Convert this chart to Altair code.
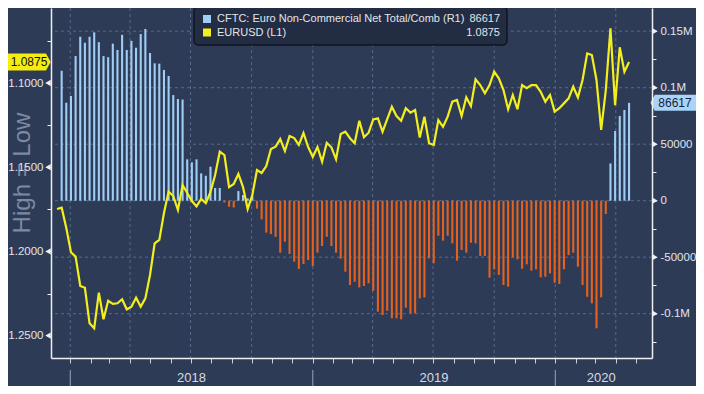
import altair as alt
import pandas as pd
import numpy as np

# ------------------------------------------------------------------ data
cftc_start = "2017-12-19"          # weekly (Tuesday) CFTC report dates
cftc_net = [
    115000, 86700, 92700, 128000, 145100, 139800, 145100, 149000, 140300, 128000,
    127000, 139000, 133400, 146800, 133400, 141500, 135400, 147500, 152000, 130700,
    121600, 121300, 115700, 110400, 93500, 90000, 89500, 36600, 34000, 36600,
    24200, 22100, 30100, 11200, 11200, -1500, -5300, -6000, 8500, 5000,
    2000, 4000, -7000, -16500, -28300, -29500, -31900, -46000, -36300, -47200,
    -54000, -60400, -56000, -52500, -57800, -46000, -40100, -31900, -40100, -46000,
    -51300, -62800, -74600, -71700, -76700, -75500, -73100, -79700, -98200, -101200,
    -97400, -104100, -104100, -105000, -94700, -99700, -99700, -86400, -85500, -51000,
    -55400, -31000, -35400, -31000, -37700, -53100, -43600, -46000, -37200, -37700,
    -48900, -48900, -68100, -60700, -65700, -74600, -76100, -50400, -51900, -60200,
    -56300, -62000, -60700, -67800, -67300, -64300, -72600, -73700, -60700, -48100,
    -46000, -58400, -74600, -85000, -90800, -112900, -85500, -11800, 33000, 61700,
    75000, 80300, 86617,
]

eurusd_start = "2017-12-12"        # weekly EURUSD closes
eurusd = [
    1.1748,
    1.1740, 1.1861, 1.2005, 1.2031, 1.2205, 1.2216, 1.2427, 1.2457, 1.2245, 1.2403,
    1.2293, 1.2312, 1.2308, 1.2284, 1.2344, 1.2328, 1.2275, 1.2328, 1.2279, 1.2140,
    1.1952, 1.1932, 1.1772, 1.1645, 1.1671, 1.1754, 1.1606, 1.1653, 1.1701, 1.1733,
    1.1689, 1.1713, 1.1647, 1.1546, 1.1408, 1.1428, 1.1618, 1.1600, 1.1540, 1.1618,
    1.1748, 1.1665, 1.1517, 1.1534, 1.1493, 1.1392, 1.1378, 1.1333, 1.1404, 1.1315,
    1.1327, 1.1368, 1.1297, 1.1380, 1.1439, 1.1380, 1.1467, 1.1355, 1.1382, 1.1453,
    1.1303, 1.1289, 1.1328, 1.1358, 1.1224, 1.1322, 1.1295, 1.1216, 1.1210, 1.1289,
    1.1214, 1.1141, 1.1196, 1.1224, 1.1150, 1.1176, 1.1160, 1.1324, 1.1200, 1.1358,
    1.1368, 1.1220, 1.1260, 1.1200, 1.1111, 1.1101, 1.1196, 1.1085, 1.1137, 1.0978,
    1.1012, 1.1061, 1.1012, 1.0933, 1.0972, 1.1042, 1.1156, 1.1071, 1.1156, 1.1012,
    1.1031, 1.1012, 1.1012, 1.1052, 1.1111, 1.1071, 1.1170, 1.1150, 1.1121, 1.1091,
    1.1022, 1.1085, 1.0982, 1.0824, 1.0834, 1.0982, 1.1279, 1.1042, 1.0675, 1.1131,
    1.0788, 1.0933, 1.0875,
]

left_ticks = [1.075, 1.100, 1.125, 1.150, 1.175, 1.200, 1.225, 1.250]
left_major = [1.10, 1.15, 1.20, 1.25]
right_ticks = [-125000, -100000, -75000, -50000, -25000, 0, 25000,
               50000, 75000, 100000, 125000, 150000]
right_major = [150000, 100000, 50000, 0, -50000, -100000]
right_major_labels = ["0.15M", "0.1M", "50000", "0", "-50000", "-0.1M"]

quarter_dates = ["2018-01-01", "2018-04-01", "2018-07-01", "2018-10-01",
                 "2019-01-01", "2019-04-01", "2019-07-01", "2019-10-01",
                 "2020-01-01", "2020-04-01"]
year_starts = ["2018-01-01", "2019-01-01", "2020-01-01"]
year_labels = ["2018", "2019", "2020"]

legend_names = ["CFTC: Euro Non-Commercial Net Total/Comb (R1)", "EURUSD (L1)"]
legend_values = ["86617", "1.0875"]
last_cftc, last_cftc_text = 86617, "86617"
last_eur, last_eur_text = 1.0875, "1.0875"
axis_note = "High = Low"

# ------------------------------------------------------------------ style
W, H = 601, 350
BG = "#2e3b57"
BLUE = "#9fcdf4"
ORANGE = "#e4621d"
YELLOW = "#f3ef1f"
GRID = "#566a8b"
AXIS = "#f0f0f0"
LABEL = "#e2e5ea"
FONT = "Liberation Sans"

x_end = pd.Timestamp("2020-05-18")

# ------------------------------------------------------------------ frames
bar_dates = pd.date_range(cftc_start, periods=len(cftc_net), freq="7D")
df_bar = pd.DataFrame({"date": bar_dates, "net": cftc_net})
df_bar["sign"] = np.where(df_bar["net"] >= 0, "long", "short")

line_dates = pd.date_range(eurusd_start, periods=len(eurusd), freq="7D")
df_line = pd.DataFrame({"date": line_dates, "px": eurusd})

df_vgrid = pd.DataFrame({"date": pd.to_datetime(quarter_dates)})
df_hgrid = pd.DataFrame({"v": right_major})
df_tl = pd.DataFrame({"v": left_major})
df_tr = pd.DataFrame({"v": right_major})

ys = pd.to_datetime(year_starts)
mids = []
for i, s in enumerate(ys):
    e = ys[i + 1] if i + 1 < len(ys) else x_end
    e = min(e, x_end)
    mids.append(s + (e - s) / 2)
df_years = pd.DataFrame({"date": mids, "label": year_labels})
df_sep = pd.DataFrame({"date": ys})
one = pd.DataFrame({"a": [0]})

# ------------------------------------------------------------------ scales / axes
xscale = alt.Scale(domain=[alt.DateTime(year=2017, month=12, date=10, hours=12),
                           alt.DateTime(year=2020, month=5, date=18)])
xaxis = alt.Axis(labels=False, tickCount=alt.TimeIntervalStep(interval="month", step=1),
                 tickSize=5, tickColor="#c9ced8", domainColor=AXIS, domainWidth=1.5,
                 grid=False, title=None, orient="bottom", zindex=1)
xenc = alt.X("date:T", scale=xscale, axis=xaxis, title=None)

left_scale = alt.Scale(domain=[1.05546, 1.26330], reverse=True, nice=False, zero=False)
right_scale = alt.Scale(domain=[-139210, 170540], nice=False, zero=False)

left_expr = "indexof([" + ",".join("'%.4f'" % v for v in left_major) + "], datum.label) >= 0 ? datum.label : ''"
right_expr = ""
for v, t in zip(right_major, right_major_labels):
    right_expr += "datum.value == %d ? '%s' : " % (v, t)
right_expr += "''"

left_axis = alt.Axis(orient="left", values=left_ticks, format=".4f", labelExpr=left_expr,
                     tickSize=4, tickColor=AXIS, domainColor=AXIS, domainWidth=1.5,
                     labelColor=LABEL, labelFont=FONT, labelFontSize=11.5, labelPadding=4,
                     grid=False, title=None, zindex=1)
right_axis = alt.Axis(orient="right", values=right_ticks, labelExpr=right_expr,
                      tickSize=4, tickColor=AXIS, domainColor=AXIS, domainWidth=1.5,
                      labelColor=LABEL, labelFont=FONT, labelFontSize=11.5, labelPadding=4,
                      grid=False, title=None, zindex=1)

# ------------------------------------------------------------------ layers
note = alt.Chart(one).mark_text(text=axis_note, angle=270, fontSize=24, font=FONT,
                                color="#7c8aa3", align="center", baseline="middle").encode(
    x=alt.value(-28), y=alt.value(165))

vgrid = alt.Chart(df_vgrid).mark_rule(color=GRID, strokeDash=[3, 3], strokeWidth=1).encode(x=xenc)
hgrid = alt.Chart(df_hgrid).mark_rule(color=GRID, strokeDash=[3, 3], strokeWidth=1).encode(
    y=alt.Y("v:Q", scale=right_scale, axis=None))

bars = alt.Chart(df_bar).mark_bar(size=2.1).encode(
    x=xenc,
    y=alt.Y("net:Q", scale=right_scale, axis=right_axis),
    y2=alt.datum(0),
    color=alt.Color("sign:N", scale=alt.Scale(domain=["long", "short"], range=[BLUE, ORANGE]),
                    legend=None),
)

line = alt.Chart(df_line).mark_line(color=YELLOW, strokeWidth=2.2, clip=True).encode(
    x=xenc, y=alt.Y("px:Q", scale=left_scale, axis=left_axis))

tri_l = alt.Chart(df_tl).mark_point(shape="triangle-left", filled=True, size=40,
                                    color=AXIS, opacity=1).encode(
    x=alt.value(-3), y=alt.Y("v:Q", scale=left_scale, axis=None))
tri_r = alt.Chart(df_tr).mark_point(shape="triangle-right", filled=True, size=40,
                                    color=AXIS, opacity=1).encode(
    x=alt.value(W + 3), y=alt.Y("v:Q", scale=right_scale, axis=None))

df_tag_l = pd.DataFrame({"v": [last_eur], "t": [last_eur_text]})
df_tag_r = pd.DataFrame({"v": [last_cftc], "t": [last_cftc_text]})
tag_l_shape = "M-2.55,-1 L2.0,-1 L2.55,0 L2.0,1 L-2.55,1 Z"
tag_r_shape = "M-2.95,0 L-2.4,-1 L2.95,-1 L2.95,1 L-2.4,1 Z"

tag_l = alt.Chart(df_tag_l).mark_point(shape=tag_l_shape, filled=True, size=289,
                                       color="#f5ec12", opacity=1, strokeOpacity=0).encode(
    x=alt.value(-22), y=alt.Y("v:Q", scale=left_scale, axis=None))
tag_l_txt = alt.Chart(df_tag_l).mark_text(font=FONT, fontSize=12, color="#111111",
                                          align="center", baseline="middle").encode(
    x=alt.value(-22), y=alt.Y("v:Q", scale=left_scale, axis=None), text="t:N")
tag_r = alt.Chart(df_tag_r).mark_point(shape=tag_r_shape, filled=True, size=256,
                                       color="#a9d4f7", opacity=1, strokeOpacity=0).encode(
    x=alt.value(623), y=alt.Y("v:Q", scale=right_scale, axis=None))
tag_r_txt = alt.Chart(df_tag_r).mark_text(font=FONT, fontSize=12, color="#17223a",
                                          align="center", baseline="middle").encode(
    x=alt.value(624), y=alt.Y("v:Q", scale=right_scale, axis=None), text="t:N")

leg_box = alt.Chart(one).mark_rect(fill="#222c43", stroke="#10151f", strokeWidth=1.5,
                                   cornerRadius=4).encode(
    x=alt.value(143), x2=alt.value(456), y=alt.value(-1), y2=alt.value(37))
leg_layers = [leg_box]
for k, (name, val, col) in enumerate(zip(legend_names, legend_values, [BLUE, YELLOW])):
    yc = 11 + k * 13.5
    leg_layers.append(alt.Chart(one).mark_rect(fill=col).encode(
        x=alt.value(152), x2=alt.value(160), y=alt.value(yc - 4), y2=alt.value(yc + 4)))
    leg_layers.append(alt.Chart(one).mark_text(text=name, font=FONT, fontSize=11, color=LABEL,
                                               align="left", baseline="middle").encode(
        x=alt.value(166), y=alt.value(yc)))
    leg_layers.append(alt.Chart(one).mark_text(text=val, font=FONT, fontSize=11, color=LABEL,
                                               align="right", baseline="middle").encode(
        x=alt.value(449), y=alt.value(yc)))

years = alt.Chart(df_years).mark_text(font=FONT, fontSize=13, color="#d6dae2",
                                      align="center", baseline="middle").encode(
    x=xenc, y=alt.value(370), text="label:N")
seps = alt.Chart(df_sep).mark_rule(color="#9aa3b5", strokeWidth=1).encode(
    x=xenc, y=alt.value(362), y2=alt.value(378))

chart = alt.layer(
    note, vgrid, hgrid, bars, line, tri_l, tri_r, tag_l, tag_l_txt, tag_r, tag_r_txt,
    *leg_layers, years, seps
).resolve_scale(y="independent").properties(
    width=W, height=H,
    padding={"left": 43, "top": 0, "right": 44, "bottom": 28},
    autosize=alt.AutoSizeParams(type="none"),
    background=BG,
).configure_view(stroke=None, fill=BG)

chart.save("out.html", embed_options={"renderer": "svg", "actions": False})
